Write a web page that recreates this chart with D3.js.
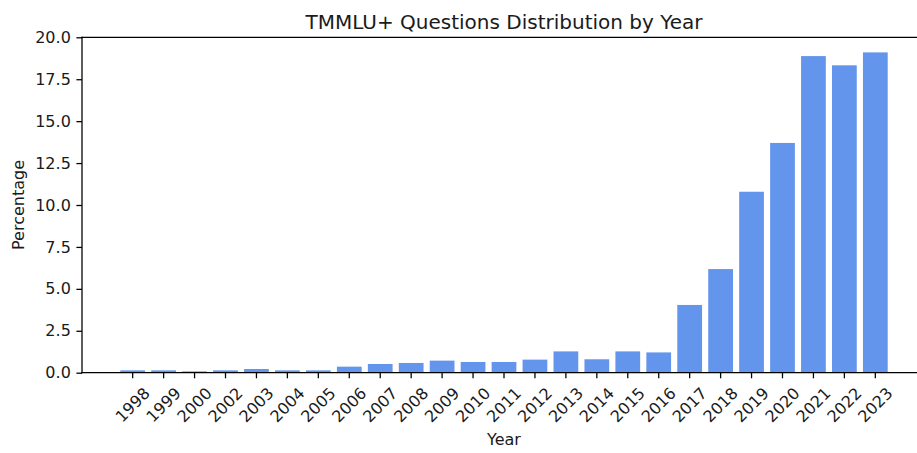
<!DOCTYPE html>
<html>
<head>
<meta charset="utf-8">
<script src="https://cdn.jsdelivr.net/npm/d3@7"></script>
<style>
  html, body { margin: 0; padding: 0; background: #fff; }
  svg { display: block; font-family: "DejaVu Sans", sans-serif; }
</style>
</head>
<body>
<svg id="chart" width="917" height="453"></svg>
<script>
const years = ["1998","1999","2000","2002","2003","2004","2005","2006","2007","2008","2009","2010","2011","2012","2013","2014","2015","2016","2017","2018","2019","2020","2021","2022","2023"];
const percentages = [0.14,0.14,0.08,0.14,0.22,0.14,0.14,0.36,0.52,0.58,0.72,0.64,0.64,0.78,1.27,0.80,1.27,1.21,4.04,6.18,10.79,13.70,18.88,18.33,19.10];
const yTicks = [0,2.5,5,7.5,10,12.5,15,17.5,20];
const titleText = "TMMLU+ Questions Distribution by Year";
const xLabel = "Year";
const yLabel = "Percentage";

const svg = d3.select("#chart");
const axLeft = 82, axRight = 926, axTop = 37.3, axBottom = 372.7;
const fs = 16;
const tickLen = 5.6, tickPad = 5.6, lw = 1.28;
const textColor = "#1a1a1a";

const x = d3.scaleBand().domain(years).range([117.2, 890.8]).paddingInner(0.2).paddingOuter(0.1);
const y = d3.scaleLinear().domain([0, 20]).range([axBottom, axTop]);

// bars
svg.append("g").selectAll("rect").data(years).join("rect")
  .attr("x", d => x(d))
  .attr("y", (d, i) => y(percentages[i]))
  .attr("width", x.bandwidth())
  .attr("height", (d, i) => y(0) - y(percentages[i]))
  .attr("fill", "#6495ED");

// spines
const spine = (x1, y1, x2, y2) => svg.append("line").attr("x1", x1).attr("y1", y1).attr("x2", x2).attr("y2", y2)
  .attr("stroke", "#000").attr("stroke-width", lw).attr("stroke-linecap", "square");
spine(axLeft, axTop, axLeft, axBottom);
spine(axLeft, axTop, axRight, axTop);
spine(axLeft, axBottom, axRight, axBottom);

// y axis
const yAxis = d3.axisLeft(y).tickValues(yTicks).tickFormat(d3.format(".1f")).tickSize(tickLen).tickPadding(tickPad);
const gy = svg.append("g").attr("transform", `translate(${axLeft},0)`).call(yAxis);
gy.select(".domain").remove();
gy.selectAll(".tick line").attr("stroke", "#000").attr("stroke-width", lw);
gy.selectAll(".tick text").attr("font-size", fs).attr("fill", textColor).attr("font-family", "DejaVu Sans");

// x axis
const xAxis = d3.axisBottom(x).tickSize(tickLen).tickPadding(tickPad);
const gx = svg.append("g").attr("transform", `translate(0,${axBottom})`).call(xAxis);
gx.select(".domain").remove();
gx.selectAll(".tick line").attr("stroke", "#000").attr("stroke-width", lw);
gx.selectAll(".tick text").each(function() {
  const t = d3.select(this);
  t.attr("font-size", fs).attr("fill", textColor).attr("font-family", "DejaVu Sans")
   .attr("text-anchor", "middle").attr("dy", null).attr("dominant-baseline", "central");
  const w = this.getComputedTextLength();
  const h = fs * 1.16;
  const bh = (w + h) * Math.SQRT1_2;
  const cy = tickLen + tickPad + bh / 2;
  t.attr("y", cy).attr("x", 0).attr("transform", `rotate(-45,0,${cy})`);
});

// title
svg.append("text").attr("x", (axLeft + axRight) / 2).attr("y", 28.5)
  .attr("text-anchor", "middle").attr("font-size", 20).attr("fill", textColor).text(titleText);

// x label
svg.append("text").attr("x", (axLeft + axRight) / 2).attr("y", 445)
  .attr("text-anchor", "middle").attr("font-size", fs).attr("fill", textColor).text(xLabel);

// y label
svg.append("text").attr("transform", `translate(24,${(axTop + axBottom) / 2}) rotate(-90)`)
  .attr("text-anchor", "middle").attr("font-size", fs).attr("fill", textColor).text(yLabel);
</script>
</body>
</html>
